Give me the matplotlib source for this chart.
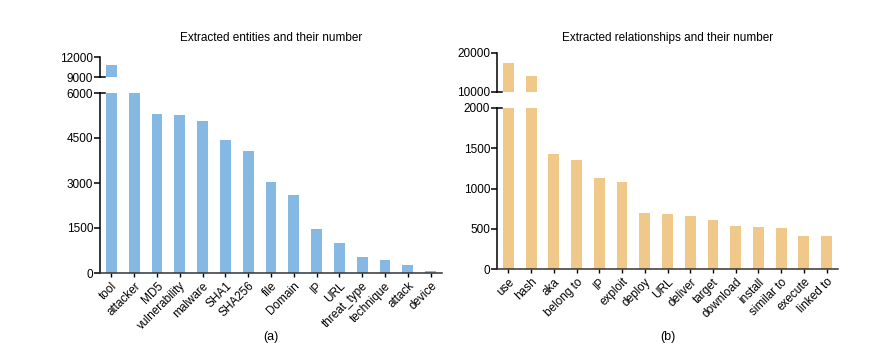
import matplotlib.pyplot as plt

plt.rcParams['font.family'] = ['Liberation Sans', 'DejaVu Sans']

# entities (a)
entity_names = ['tool', 'attacker', 'MD5', 'vulnerability', 'malware', 'SHA1', 'SHA256',
                'file', 'Domain', 'IP', 'URL', 'threat_type', 'technique', 'attack', 'device']
entity_counts = [10800, 6000, 5300, 5270, 5070, 4430, 4070, 3030, 2600, 1470, 1000,
                 540, 440, 270, 60]

# relationships (b)
rel_names = ['use', 'hash', 'aka', 'belong to', 'IP', 'exploit', 'deploy', 'URL', 'deliver',
             'target', 'download', 'install', 'similar to', 'execute', 'linked to']
rel_counts = [17400, 14000, 1425, 1350, 1135, 1085, 700, 687, 662, 612, 537, 525, 512, 412, 410]

blue = '#85B9E3'
orange = '#F0C88A'
fs = 8.5

fig = plt.figure(figsize=(8.89, 3.61), dpi=100)


def broken_bar(lo_rect, hi_rect, names, counts, color, lo_lim, hi_lim, lo_ticks, hi_ticks, title, label):
    ax_lo = fig.add_axes(lo_rect)
    ax_hi = fig.add_axes(hi_rect)
    x = range(len(names))
    for ax in (ax_lo, ax_hi):
        ax.bar(x, counts, width=0.48, color=color)
        ax.set_xlim(-0.5, len(names) - 0.5)
        for s in ('top', 'right'):
            ax.spines[s].set_visible(False)
        ax.spines['left'].set_linewidth(1.1)
        ax.tick_params(axis='y', labelsize=fs, length=4, width=1.1, pad=1)
    ax_lo.set_ylim(*lo_lim)
    ax_lo.set_yticks(lo_ticks)
    ax_hi.set_ylim(*hi_lim)
    ax_hi.set_yticks(hi_ticks)
    ax_hi.spines['bottom'].set_visible(False)
    ax_hi.set_xticks([])
    ax_lo.spines['bottom'].set_linewidth(1.1)
    ax_lo.spines['bottom'].set_color('#333333')
    ax_lo.set_xticks(list(x))
    ax_lo.set_xticklabels(names, rotation=45, ha='right', rotation_mode='anchor', fontsize=fs)
    ax_lo.tick_params(axis='x', length=3, width=1.0, pad=2)
    # break marks
    ax_lo.plot([0, 0.016], [1, 1], transform=ax_lo.transAxes, color='black', lw=1.1, clip_on=False)
    ax_hi.plot([0, 0.016], [0, 0], transform=ax_hi.transAxes, color='black', lw=1.1, clip_on=False)
    cx = lo_rect[0] + lo_rect[2] / 2
    fig.text(cx, 1 - 38 / 361, title, ha='center', va='center', fontsize=fs)
    fig.text(cx, 1 - 337 / 361, label, ha='center', va='center', fontsize=fs + 0.5)


broken_bar([100 / 889, 1 - 273 / 361, 342 / 889, 180 / 361],
           [100 / 889, 1 - 77 / 361, 342 / 889, 20 / 361],
           entity_names, entity_counts, blue,
           (0, 6000), (9000, 12000), [0, 1500, 3000, 4500, 6000], [9000, 12000],
           'Extracted entities and their number', '(a)')

broken_bar([497 / 889, 1 - 269 / 361, 341 / 889, 161 / 361],
           [497 / 889, 1 - 91.7 / 361, 341 / 889, 39 / 361],
           rel_names, rel_counts, orange,
           (0, 2000), (10000, 20000), [0, 500, 1000, 1500, 2000], [10000, 20000],
           'Extracted relationships and their number', '(b)')

fig.savefig('out.png', dpi=100)
